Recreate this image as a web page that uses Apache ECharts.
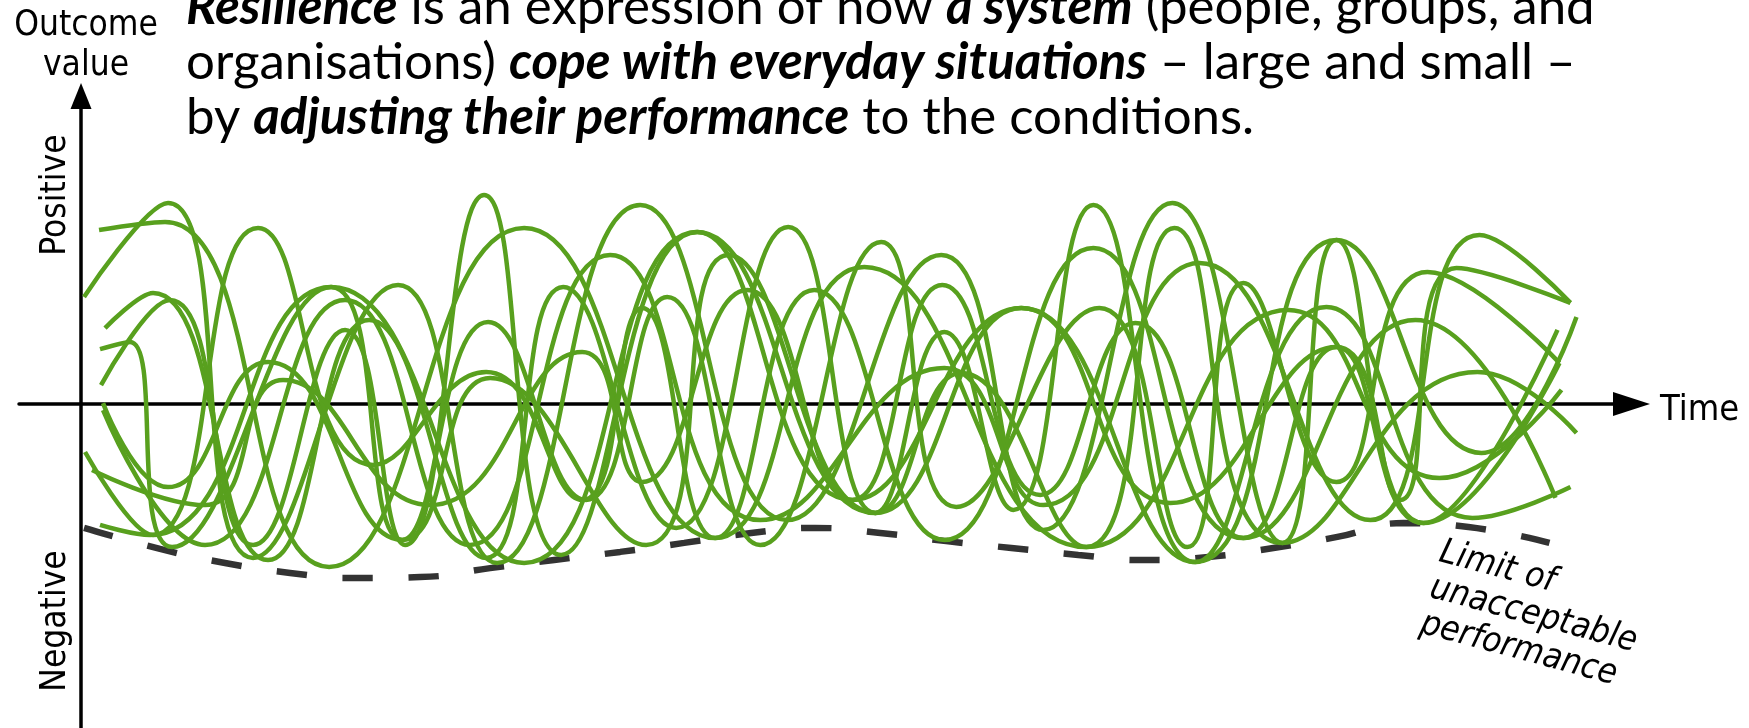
<!DOCTYPE html>
<html>
<head>
<meta charset="utf-8">
<title>Resilience</title>
<script src="https://cdn.jsdelivr.net/npm/echarts@6/dist/echarts.min.js"></script>
<style>
  html, body { margin: 0; padding: 0; background: #fff; }
  #chart { width: 1749px; height: 728px; }
</style>
</head>
<body>
<div id="chart"></div>
<script>
// time runs 0..155, outcome value about -108..103 (0 = the time axis)
var curveA = [[1.8,58],[8.4,60.7],[24.8,-54.3],[44.3,58.7],[63.4,-44.7],[78.3,45.7],[100.5,-47.7],[120.7,31.3],[135.8,-24.7],[148,4.7]];
var curveB = [[0.3,35.7],[8.7,67],[17.2,-51.3],[31.7,39.7],[41.6,-53],[55.9,66.3],[70.6,-38.7],[86,49.7],[96.2,-42],[109.1,67],[120.1,-46.3],[125.5,54.7],[134.2,-39.7],[147.6,24.7]];
var curveC = [[2.4,25.3],[7.2,37],[18.7,-52],[28.8,28],[40.5,-51.3],[48.2,39],[59.5,-41.3],[70.7,59],[79.4,-36.3],[86.3,24],[93.2,-35.3],[101.2,66.3],[111.4,-52.7],[124.5,32.3],[139.1,-38],[148.9,-27.7]];
var curveD = [[1.9,18.3],[4.9,20.7],[9.1,-47.7],[25,39],[32.1,-45.3],[40.7,27.3],[50.5,-32],[58.6,35.7],[67.9,-47],[80,54],[87.5,-34.3],[101.8,32],[110.6,-47.7],[116.2,40.3],[125.5,-26],[134.6,44],[147.8,13.7]];
var curveE = [[2,6.3],[8.9,34.7],[17.2,-47],[26.4,24.7],[32.4,-47],[40.3,69.7],[48,-50.3],[61.6,57.3],[77.1,-32],[94,32],[108.9,-33],[125.5,19],[131.9,-32],[137.5,45.3],[148.9,33.7]];
var curveF = [[0.4,-16],[7.2,-43.7],[17.7,58.7],[29.2,-20.3],[40.5,10.7],[50.1,-32],[56.1,32],[63.4,-44.7],[73.3,38],[86.3,-45.3],[101.2,52],[116.2,-44.7],[133.4,28],[147.4,-31.3]];
var curveG = [[2.2,0.3],[8.7,-27.7],[18.7,14],[32.1,-45.3],[40.9,8.7],[56.5,-47],[64.7,49.7],[79.4,-36.3],[88,10.3],[100.5,-47.7],[109.3,58.7],[120.1,-46.3],[139.6,10.7],[149.5,-9.7]];
var curveH = [[1.9,-40.3],[6.9,-43.7],[25,39],[44.3,-53],[61.6,57.3],[79.4,-36.3],[94,32],[111.4,-52.7],[125.5,54.7],[140,-16.3],[149.5,29]];
var curveI = [[1.1,-22],[12.4,-33.7],[20.2,8],[34.9,-33.7],[50.1,17.3],[56.1,-26],[66.6,38],[77.1,-32],[86.1,39.7],[95.9,-30.3],[105.4,27],[116.2,-44.7],[125.5,19],[134.2,-39.7],[147.8,13.7]];
var curveJ = [[2.2,-2],[12.4,-47],[26.4,34.7],[38.9,-47],[52.9,49.7],[67.9,-38.7],[86.3,12],[96.2,-33.7],[111.8,47],[128.9,-38.7],[139.8,56.3],[148.9,33.7]];
var curves = [curveA, curveB, curveC, curveD, curveE, curveF, curveG, curveH, curveI, curveJ];

// the dashed "limit of unacceptable performance"
var limitLine = [[0.3,-41.3],[7.9,-48.3],[14.4,-53],[20.9,-56.3],[27.4,-58],[33.9,-57.7],[40.9,-54.7],[47.3,-52],[53.9,-49.3],[60.3,-46.3],[67,-43],[73.4,-41.3],[79.9,-43],[86.5,-45.7],[93,-48],[99.7,-50.3],[105.9,-52],[112.7,-51],[119.2,-48],[125.6,-44.3],[132.2,-39.7],[138.7,-41],[146.8,-46.3]];

var GREEN = '#58a01e';
var LABEL_FONT = 'DejaVu Sans Condensed';
var MAIN_FONT = 'Lato';

var myChart = echarts.init(document.getElementById('chart'));

var series = [{
    type: 'line',
    data: limitLine,
    smooth: true,
    showSymbol: false,
    silent: true,
    lineStyle: { color: '#333', width: 6.5, type: [30, 36] }
}];
curves.forEach(function (c) {
    series.push({
        type: 'line',
        data: c,
        smooth: 0.5,
        showSymbol: false,
        silent: true,
        lineStyle: { color: GREEN, width: 4.5 }
    });
});

var mainRich = {
    n: { fontFamily: MAIN_FONT, fontSize: 51, color: '#000' },
    bi: { fontFamily: MAIN_FONT, fontSize: 51, color: '#000', fontWeight: 'bold', fontStyle: 'italic' }
};
function mainLine(txt, y) {
    return {
        type: 'text', x: 186, y: y, silent: true,
        style: { text: txt, rich: mainRich, verticalAlign: 'middle', align: 'left', fill: '#000' }
    };
}

var option = {
    animation: false,
    backgroundColor: '#fff',
    grid: { left: 19, right: 117.5, top: 96, bottom: 0 },
    xAxis: {
        type: 'value', min: -6.2, max: 155,
        axisLine: { onZero: true, symbol: ['none', 'triangle'], symbolSize: [24, 37], lineStyle: { color: '#000', width: 3.5 } },
        axisTick: { show: false }, axisLabel: { show: false }, splitLine: { show: false }
    },
    yAxis: {
        type: 'value', min: -108, max: 102.67,
        axisLine: { onZero: true, symbol: ['none', 'triangle'], symbolSize: [21, 26], lineStyle: { color: '#000', width: 3.5 } },
        axisTick: { show: false }, axisLabel: { show: false }, splitLine: { show: false }
    },
    series: series,
    graphic: [
        mainLine('{bi|Resilience}{n| is an expression of how }{bi|a system}{n| (people, groups, and}', 8),
        mainLine('{n|organisations) }{bi|cope with everyday situations}{n| – large and small –}', 63),
        mainLine('{n|by }{bi|adjusting their performance}{n| to the conditions.}', 118),
        {
            type: 'text', x: 86, y: 6, silent: true,
            style: { text: 'Outcome\nvalue', fontFamily: LABEL_FONT, fontSize: 35, lineHeight: 40, fill: '#000', align: 'center', verticalAlign: 'top' }
        },
        {
            type: 'text', x: 56, y: 195, rotation: Math.PI / 2, silent: true,
            style: { text: 'Positive', fontFamily: LABEL_FONT, fontSize: 35, fill: '#000', align: 'center', verticalAlign: 'middle' }
        },
        {
            type: 'text', x: 56, y: 621, rotation: Math.PI / 2, silent: true,
            style: { text: 'Negative', fontFamily: LABEL_FONT, fontSize: 35, fill: '#000', align: 'center', verticalAlign: 'middle' }
        },
        {
            type: 'text', x: 1660, y: 411, silent: true,
            style: { text: 'Time', fontFamily: LABEL_FONT, fontSize: 36, fill: '#000', align: 'left', verticalAlign: 'middle' }
        },
        {
            type: 'text', x: 1445, y: 534, rotation: -15 * Math.PI / 180, silent: true,
            style: { text: 'Limit of\nunacceptable\nperformance', fontFamily: LABEL_FONT, fontStyle: 'italic', fontSize: 35, lineHeight: 37, fill: '#000', align: 'left', verticalAlign: 'top' }
        }
    ]
};
myChart.setOption(option);
</script>
</body>
</html>
